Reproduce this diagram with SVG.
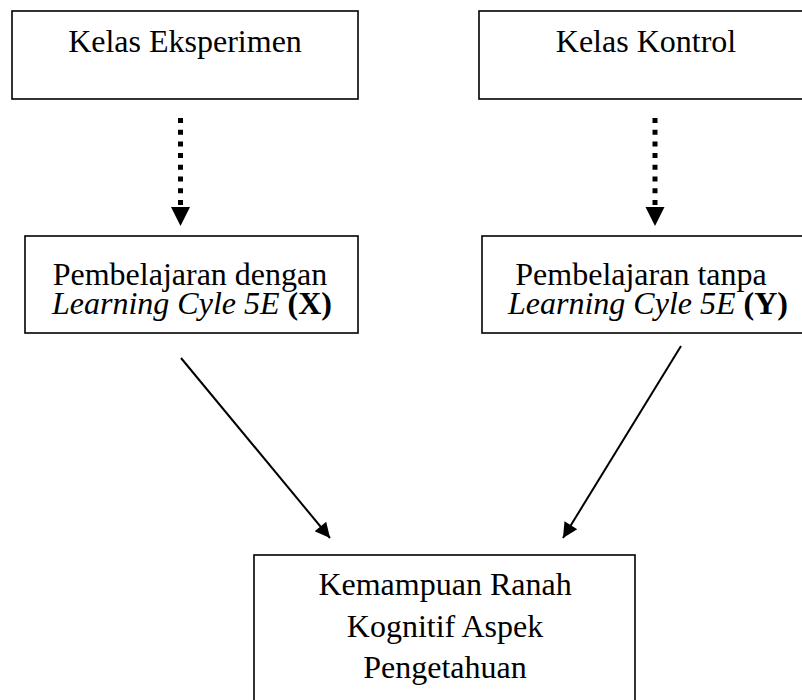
<svg xmlns="http://www.w3.org/2000/svg" width="802" height="700" viewBox="0 0 802 700">
<style>
.box{fill:#fff;stroke:#000;stroke-width:1.6}
.t{font-family:"Liberation Serif","Times New Roman",serif;font-size:32px;fill:#000;text-anchor:middle}
.i{font-style:italic}
.b{font-weight:bold}
.dot{stroke:#000;stroke-width:5;stroke-dasharray:5 6.7;fill:none}
.sol{stroke:#000;stroke-width:2;fill:none}
</style>
<defs>
<marker id="ah" viewBox="0 0 10 10" refX="10" refY="5" markerWidth="18" markerHeight="15" markerUnits="userSpaceOnUse" orient="auto">
<path d="M0,0 L10,5 L0,10 z" fill="#000"/>
</marker>
</defs>
<rect width="802" height="700" fill="#fff"/>
<g id="n1">
<rect class="box" x="12" y="11" width="346" height="88"/>
<text class="t" x="185" y="52">Kelas Eksperimen</text>
</g>
<g id="n2">
<rect class="box" x="479" y="11" width="340" height="88"/>
<text class="t" x="646" y="52">Kelas Kontrol</text>
</g>
<g id="n3">
<rect class="box" x="25" y="236" width="333" height="97"/>
<text class="t" x="190" y="285">Pembelajaran dengan</text>
<text class="t" x="192" y="314"><tspan class="i">Learning Cyle 5E</tspan> <tspan class="b">(X)</tspan></text>
</g>
<g id="n4">
<rect class="box" x="482" y="236" width="337" height="97"/>
<text class="t" x="641" y="285">Pembelajaran tanpa</text>
<text class="t" x="648" y="314"><tspan class="i">Learning Cyle 5E</tspan> <tspan class="b">(Y)</tspan></text>
</g>
<g id="n5">
<rect class="box" x="254" y="555" width="381" height="160"/>
<text class="t" x="445" y="595">Kemampuan Ranah</text>
<text class="t" x="445" y="637">Kognitif Aspek</text>
<text class="t" x="445" y="678">Pengetahuan</text>
</g>
<g id="connectors">
<line class="dot" x1="180.5" y1="118" x2="180.5" y2="207"/>
<polygon points="171,207 190,207 180.5,226" fill="#000"/>
<line class="dot" x1="655" y1="118" x2="655" y2="207"/>
<polygon points="645.5,207 664.5,207 655,226" fill="#000"/>
<line class="sol" x1="181" y1="358" x2="330" y2="538" marker-end="url(#ah)"/>
<line class="sol" x1="681" y1="346" x2="563" y2="538" marker-end="url(#ah)"/>
</g>
</svg>
